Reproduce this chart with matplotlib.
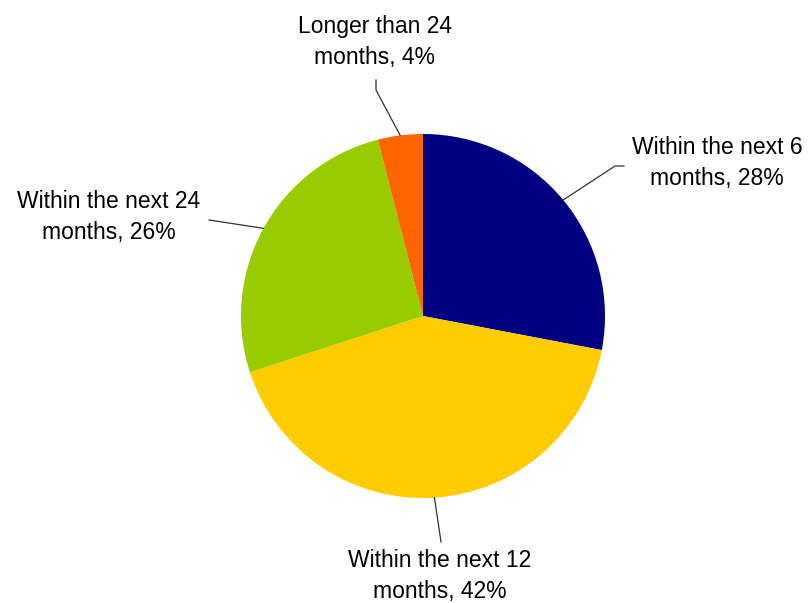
import numpy as np
import matplotlib.pyplot as plt

# --- DANE ---
labels = ["Within the next 6\nmonths, 28%", "Within the next 12\nmonths, 42%",
          "Within the next 24\nmonths, 26%", "Longer than 24\nmonths, 4%"]
shares = [28, 42, 26, 4]
colors = ["#000080", "#FFCC00", "#99CC00", "#FF6600"]

# --- UKLAD (w pikselach) ---
cx, cy, R = 423, 287, 182
text_pos = [(717, 440), (440, 27), (109, 386), (375, 561)]
# punkt zalamania linii (wzgledem tekstu)
elbows = [[(615, 437), (624, 437)], [(441, 61)], [(209, 383)], [(376, 513), (376, 523)]]

fig = plt.figure(figsize=(8.09, 6.03), dpi=100)
ax = fig.add_axes([0, 0, 1, 1])
ax.set_xlim(0, 809)
ax.set_ylim(0, 603)
ax.set_aspect('equal')
ax.axis('off')

wedges, _ = ax.pie(shares, colors=colors, startangle=90, counterclock=False,
                   center=(cx, cy), radius=R, frame=True)
ax.set_xlim(0, 809)
ax.set_ylim(0, 603)
ax.axis('off')

for w, lab, (tx, ty), pts in zip(wedges, labels, text_pos, elbows):
    mid = np.deg2rad((w.theta1 + w.theta2) / 2)
    ex, ey = cx + R * np.cos(mid), cy + R * np.sin(mid)
    xs = [ex] + [p[0] for p in pts]
    ys = [ey] + [p[1] for p in pts]
    ax.plot(xs, ys, color='#333333', lw=0.9)
    ax.text(tx, ty, lab, ha='center', va='center', fontsize=16.5,
            family='Liberation Sans', linespacing=1.4, color='black')

plt.savefig('out.png', dpi=100)
